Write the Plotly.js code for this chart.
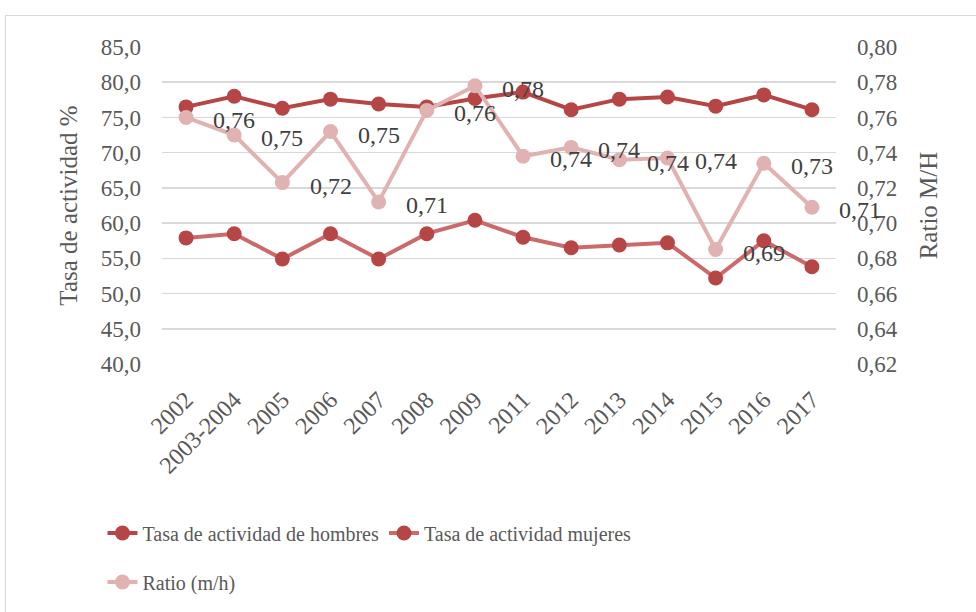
<!DOCTYPE html>
<html>
<head>
<meta charset="utf-8">
<script src="https://cdn.plot.ly/plotly-3.0.1.min.js"></script>
<style>
html,body{margin:0;padding:0;background:#fff;}
#wrap{position:relative;width:976px;height:612px;overflow:hidden;}
#chart{position:absolute;left:0;top:0;width:976px;height:612px;}
#frame{position:absolute;left:5px;top:15px;width:990px;height:620px;border:1px solid #d9d9d9;pointer-events:none;}
</style>
</head>
<body>
<div id="wrap"><div id="chart"></div><div id="frame"></div></div>
<script>
var categories = ["2002","2003-2004","2005","2006","2007","2008","2009","2011","2012","2013","2014","2015","2016","2017"];
var hombres = [76.5, 78.0, 76.3, 77.6, 76.9, 76.5, 77.7, 78.6, 76.1, 77.6, 77.9, 76.6, 78.2, 76.1];
var mujeres = [57.9, 58.5, 54.9, 58.5, 54.9, 58.5, 60.4, 58.0, 56.5, 56.9, 57.2, 52.2, 57.5, 53.8];
var ratio = [0.760, 0.750, 0.723, 0.752, 0.712, 0.764, 0.778, 0.738, 0.743, 0.736, 0.737, 0.685, 0.734, 0.709];
var leftTicks = [40,45,50,55,60,65,70,75,80,85];
var rightTicks = [0.62,0.64,0.66,0.68,0.70,0.72,0.74,0.76,0.78,0.80];

var serif = "Liberation Serif";
var gray = "#595959";
function comma(v, d){ return v.toFixed(d).replace(".", ","); }

var M = {l: 162, r: 140, t: 47, b: 248};
var plotW = 976 - M.l - M.r;
var step = plotW / categories.length;

var traces = [
  {x: categories, y: hombres, name: "Tasa de actividad de hombres", type: "scatter", mode: "lines+markers",
   line: {color: "#b64646", width: 4}, marker: {color: "#b64646", size: 15}, legend: "legend"},
  {x: categories, y: mujeres, name: "Tasa de actividad mujeres", type: "scatter", mode: "lines+markers",
   line: {color: "#cb6a6a", width: 4}, marker: {color: "#b64646", size: 15}, legend: "legend"},
  {x: categories, y: ratio, name: "Ratio (m/h)", type: "scatter", mode: "lines+markers", yaxis: "y2",
   line: {color: "#e0b3b2", width: 4}, marker: {color: "#e0b3b2", size: 15}, legend: "legend2"}
];

// Data labels (Excel-style, shifted one category to the right)
var annotations = ratio.map(function(v, i){
  return {x: i, y: v, xref: "x", yref: "y2", text: comma(v, 2), showarrow: false,
          xanchor: "center", yanchor: "middle", xshift: step, yshift: -3,
          font: {family: serif, size: 24, color: "#404040"}};
});

var layout = {
  width: 976, height: 612,
  margin: M,
  font: {family: serif, color: gray},
  paper_bgcolor: "rgba(0,0,0,0)", plot_bgcolor: "rgba(0,0,0,0)",
  showlegend: true,
  xaxis: {type: "category", tickangle: -45, tickfont: {family: serif, size: 24, color: gray},
          showgrid: false, zeroline: false, showline: false, ticks: "", ticklen: 0,
          ticklabelstandoff: 16, range: [-0.5, categories.length - 0.5]},
  yaxis: {range: [40, 85], tickvals: leftTicks, ticktext: leftTicks.map(function(v){return comma(v,1);}),
          tickfont: {family: serif, size: 23, color: gray}, gridcolor: "#d9d9d9", gridwidth: 1.5,
          zeroline: false, showline: false, ticks: "", ticklabelstandoff: 20,
          title: {text: "Tasa de actividad %", font: {family: serif, size: 25, color: gray}, standoff: 16}},
  yaxis2: {range: [0.62, 0.80], overlaying: "y", side: "right", tickvals: rightTicks,
           ticktext: rightTicks.map(function(v){return comma(v,2);}),
           tickfont: {family: serif, size: 23, color: gray}, showgrid: false, zeroline: false,
           showline: false, ticks: "", ticklabelstandoff: 20,
           title: {text: "Ratio M/H", font: {family: serif, size: 25, color: gray}, standoff: 22}},
  legend: {orientation: "h", xref: "container", yref: "container", x: 0.105, y: 0.129,
           xanchor: "left", yanchor: "middle", font: {family: serif, size: 20, color: gray},
           bgcolor: "rgba(0,0,0,0)", itemwidth: 30, tracegroupgap: 0},
  legend2: {orientation: "h", xref: "container", yref: "container", x: 0.105, y: 0.049,
            xanchor: "left", yanchor: "middle", font: {family: serif, size: 20, color: gray},
            bgcolor: "rgba(0,0,0,0)", itemwidth: 30},
  annotations: annotations
};

Plotly.newPlot("chart", traces, layout, {displayModeBar: false, staticPlot: true});
</script>
</body>
</html>
